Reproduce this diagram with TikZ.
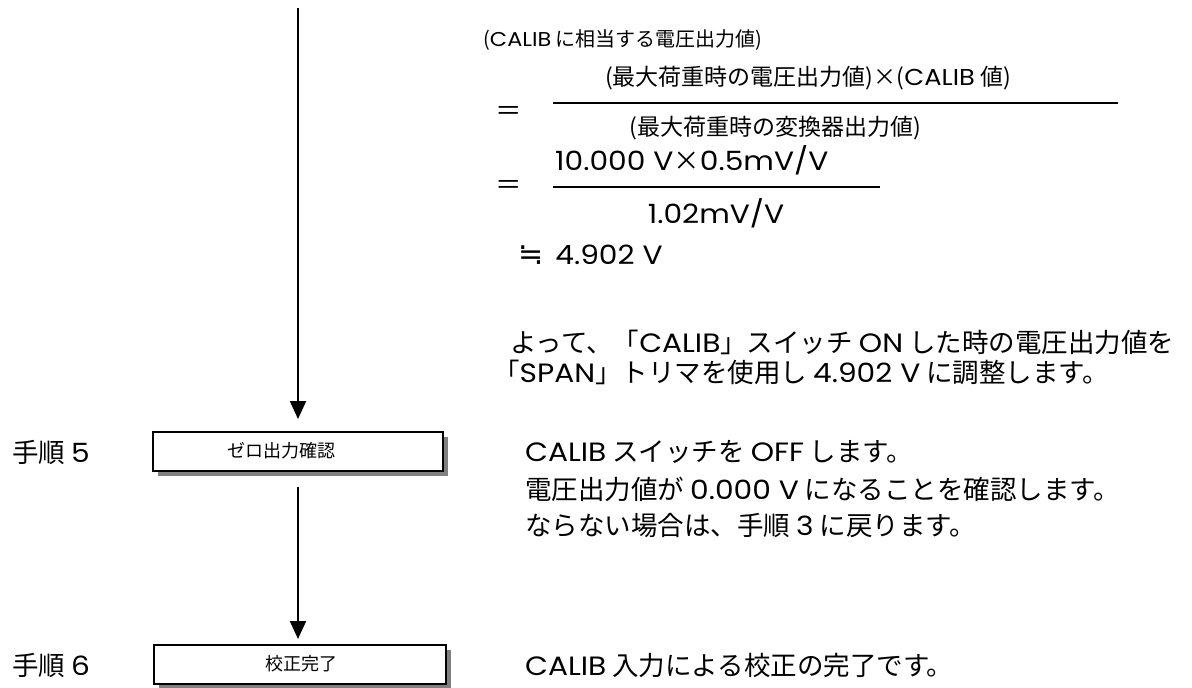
\documentclass[tikz,border=0pt]{standalone}
\usepackage{fontspec}
\setmainfont{Noto Sans CJK JP}
\newfontfamily\lat[FakeStretch=1.12]{Poppins}
\newfontfamily\sym{DejaVu Sans}
\usetikzlibrary{arrows.meta,shadows}
\begin{document}
\begin{tikzpicture}[x=1pt,y=-1pt,
  txt/.style={anchor=west,inner sep=0pt,font=\fontsize{26.5}{30}\selectfont},
  sml/.style={inner sep=0pt,font=\fontsize{23}{26}\selectfont},
  boxstyle/.style={draw=black,line width=2pt,fill=white,minimum width=290pt,minimum height=39pt,inner sep=0pt,
    drop shadow={shadow xshift=5pt,shadow yshift=-5pt,fill=gray,opacity=1}},
  boxlbl/.style={inner sep=0pt,font=\fontsize{18}{20}\selectfont},
  flow/.style={line width=2pt,-{Triangle[width=16pt,length=18pt]}},
  fracbar/.style={line width=2pt}]
\useasboundingbox (0,0) rectangle (1192,688);

% flow boxes
\node[boxstyle] (box1) at (298,451.5) {};
\node[boxlbl] (lbl1) at (281,451) {ゼロ出力確認};
\node[boxstyle,minimum width=292pt] (box2) at (300,664.5) {};
\node[boxlbl] (lbl2) at (301,664) {校正完了};

\coordinate (top) at (298,8);
\draw[flow] (top) -- ([yshift=12pt]box1.north);
\draw[flow,shorten <=15pt,shorten >=5pt] (box1.south) -- (box1.south |- box2.north);

% step labels
\node[txt] (s5) at (12,452) {手順 {\lat 5}};
\node[txt] (s6) at (12,665) {手順 {\lat 6}};

% formula
\node[sml,anchor=west,font=\fontsize{20}{24}\selectfont] (f0) at (483,40) {({\lat CALIB} に相当する電圧出力値)};
\node[txt] (eq1) at (495,113) {＝};
\coordinate (b1l) at (553,103);
\coordinate (b1r) at (1118,103);
\draw[fracbar] (b1l) -- (b1r);
\node[sml] (n1) at (808,78) {(最大荷重時の電圧出力値)×({\lat CALIB} 値)};
\node[sml] (d1) at (775,128) {(最大荷重時の変換器出力値)};

\node[txt] (eq2) at (495,187) {＝};
\coordinate (b2l) at (553,187);
\coordinate (b2r) at (880,187);
\draw[fracbar] (b2l) -- (b2r);
\node[txt] (n2) at (555,160) {{\lat 10.000 V}×{\lat 0.5mV/V}};
\node[txt,anchor=center] (d2) at (716,213) {\lat 1.02mV/V};

\node[txt] (ap) at (518,255) {{\sym\fontsize{30}{30}\selectfont ≒}\hspace{12pt}{\lat 4.902 V}};

\node[txt] (p1) at (510,342) {よって、「{\lat CALIB}」スイッチ {\lat ON} した時の電圧出力値を};
\node[txt] (p2) at (493,372) {「{\lat SPAN}」トリマを使用し {\lat 4.902 V} に調整します。};

\node[txt] (t1) at (525,452) {{\lat CALIB} スイッチを {\lat OFF} します。};
\node[txt] (t2) at (525,489) {電圧出力値が {\lat 0.000 V} になることを確認します。};
\node[txt] (t3) at (525,525) {ならない場合は、手順 {\lat 3} に戻ります。};

\node[txt] (t4) at (525,665) {{\lat CALIB} 入力による校正の完了です。};
\end{tikzpicture}
\end{document}
